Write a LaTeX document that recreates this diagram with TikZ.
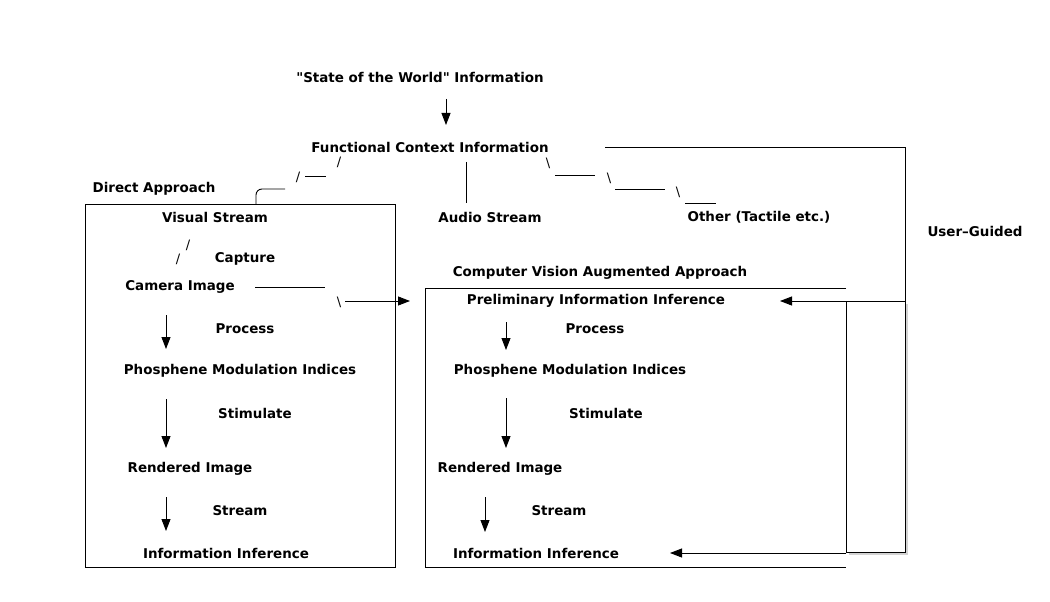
\documentclass[tikz,border=0pt]{standalone}
\usepackage{fontspec}
\setmainfont{DejaVu Sans}
\newfontfamily\plainfont{DejaVu Sans}
\usetikzlibrary{arrows.meta,shadows}
\begin{document}
\begin{tikzpicture}[x=1bp,y=-1bp,
  lbl/.style={font=\plainfont\fontsize{13.5}{15}\selectfont\bfseries, inner sep=0pt},
  slashmark/.style={font=\plainfont\fontsize{13}{15}\selectfont, inner sep=0pt},
  ln/.style={line width=0.9bp},
  arr/.style={line width=0.9bp,-{Triangle[length=12bp,width=9bp]}}]
\useasboundingbox (0,0) rectangle (1050,602);
% top texts
\node[lbl] (sw) at (420,77) {"State of the World" Information};
\node[lbl] (fc) at (430,147) {Functional Context Information};
\coordinate (swa) at (446,99);
\coordinate (swb) at (446,125);
\draw[arr] (swa) -- (swb);
% left branch
\node[slashmark] (s1) at (339,162) {/};
\node[slashmark] (s2) at (298,177) {/};
\coordinate (l1a) at (305,176); \coordinate (l1b) at (326,176);
\draw[ln] (l1a) -- (l1b);
\coordinate (da1) at (256,204); \coordinate (da2) at (285,189);
\draw[ln,rounded corners=6bp] (da1) |- (da2);
\node[lbl] (da) at (154,189) {Direct Approach};
% audio
\coordinate (au1) at (466,162); \coordinate (au2) at (466,203);
\draw[ln] (au1) -- (au2);
\node[lbl] (as) at (490,217) {Audio Stream};
% right branch
\node[slashmark] (b1) at (548,163) {\textbackslash};
\coordinate (r1a) at (555,175); \coordinate (r1b) at (595,175);
\draw[ln] (r1a) -- (r1b);
\node[slashmark] (b2) at (609,178) {\textbackslash};
\coordinate (r2a) at (615,189); \coordinate (r2b) at (665,189);
\draw[ln] (r2a) -- (r2b);
\node[slashmark] (b3) at (678,192) {\textbackslash};
\coordinate (r3a) at (685,203); \coordinate (r3b) at (716,203);
\draw[ln] (r3a) -- (r3b);
\node[lbl] (ot) at (759,217) {Other (Tactile etc.)};
% left box
\draw[ln] (85,204) rectangle (395,567);
\node[lbl] (vs) at (215,217) {Visual Stream};
\node[slashmark] (s3) at (188,245) {/};
\node[slashmark] (s4) at (178,259) {/};
\node[lbl] (cap) at (245,259) {Capture};
\node[lbl] (ci) at (180,287) {Camera Image};
\coordinate (c1a) at (255,287); \coordinate (c1b) at (325,287);
\draw[ln] (c1a) -- (c1b);
\node[slashmark] (b4) at (339,302) {\textbackslash};
\coordinate (c2a) at (345,301); \coordinate (c2b) at (410,301);
\draw[arr] (c2a) -- (c2b);
\coordinate (la1) at (166,315); \coordinate (la2) at (166,349);
\draw[arr] (la1) -- (la2);
\node[lbl] (lp) at (245,329) {Process};
\node[lbl] (lpm) at (240,371) {Phosphene Modulation Indices};
\coordinate (lb1) at (166,399); \coordinate (lb2) at (166,448);
\draw[arr] (lb1) -- (lb2);
\node[lbl] (lst) at (255,413) {Stimulate};
\node[lbl] (lri) at (190,469) {Rendered Image};
\coordinate (lc1) at (166,497); \coordinate (lc2) at (166,531);
\draw[arr] (lc1) -- (lc2);
\node[lbl] (lsr) at (240,511) {Stream};
\node[lbl] (lii) at (226,553) {Information Inference};
% right box
\node[lbl] (cv) at (600,273) {Computer Vision Augmented Approach};
\draw[ln] (846,288) -- (425,288) -- (425,567) -- (846,567);
\node[lbl] (pii) at (596,301) {Preliminary Information Inference};
\coordinate (ra1) at (506,322); \coordinate (ra2) at (506,350);
\draw[arr] (ra1) -- (ra2);
\node[lbl] (rp) at (595,329) {Process};
\node[lbl] (rpm) at (570,371) {Phosphene Modulation Indices};
\coordinate (rb1) at (506,398); \coordinate (rb2) at (506,448);
\draw[arr] (rb1) -- (rb2);
\node[lbl] (rst) at (606,413) {Stimulate};
\node[lbl] (rri) at (500,469) {Rendered Image};
\coordinate (rc1) at (485,497); \coordinate (rc2) at (485,532);
\draw[arr] (rc1) -- (rc2);
\node[lbl] (rsr) at (559,511) {Stream};
\node[lbl] (rii) at (536,553) {Information Inference};
% user guided
\draw[ln,fill=white,drop shadow={shadow xshift=2.5bp,shadow yshift=-2.5bp,opacity=0.35}] (846,301) rectangle (905,552);
\coordinate (ug0) at (605,147);
\coordinate (ug1) at (905,301);
\draw[ln] (ug0) -| (ug1);
\coordinate (ug2) at (780,301);
\draw[arr] (ug1) -- (ug2);
\coordinate (ug3) at (846,553);
\coordinate (ug4) at (670,553);
\draw[arr] (ug3) -- (ug4);
\node[lbl] (ug) at (975,231) {User–Guided};
\end{tikzpicture}
\end{document}
